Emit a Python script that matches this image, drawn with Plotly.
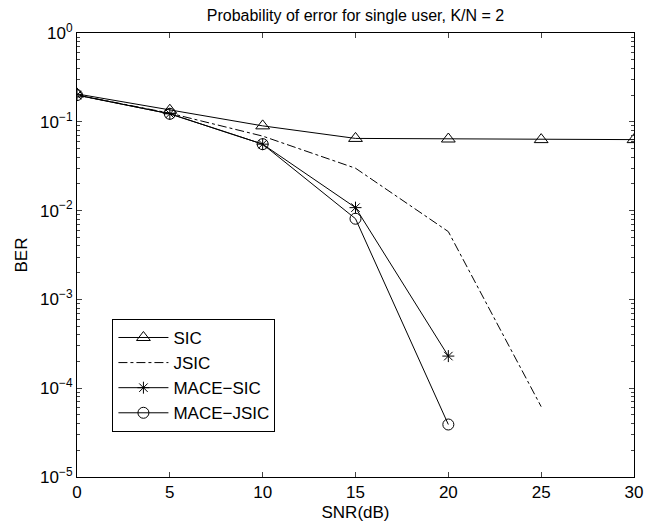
import plotly.graph_objects as go

snr = [0, 5, 10, 15, 20, 25, 30]
sic = [0.206, 0.135, 0.09, 0.065, 0.064, 0.063, 0.063]
snr_jsic = [0, 5, 10, 15, 20, 25]
jsic = [0.2, 0.125, 0.069, 0.03, 0.0058, 6.2e-5]
snr_mace = [0, 5, 10, 15, 20]
mace_sic = [0.2, 0.123, 0.056, 0.0108, 2.3e-4]
mace_jsic = [0.2, 0.123, 0.056, 0.0081, 3.9e-5]

ytick_vals = [1, 0.1, 0.01, 0.001, 1e-4, 1e-5]
ytick_text = ["10<sup>0</sup>", "10<sup>−1</sup>", "10<sup>−2</sup>", "10<sup>−3</sup>",
              "10<sup>−4</sup>", "10<sup>−5</sup>"]

fig = go.Figure()
fig.add_trace(go.Scatter(x=snr, y=sic, name="SIC", mode="lines+markers",
                         line=dict(color="black", width=1),
                         marker=dict(symbol="triangle-up-open", size=12, color="black", line=dict(width=1))))
fig.add_trace(go.Scatter(x=snr_jsic, y=jsic, name="JSIC", mode="lines",
                         line=dict(color="black", width=1, dash="dashdot")))
fig.add_trace(go.Scatter(x=snr_mace, y=mace_sic, name="MACE−SIC", mode="lines+markers",
                         line=dict(color="black", width=1),
                         marker=dict(symbol="asterisk-open", size=10, color="black", line=dict(width=1))))
fig.add_trace(go.Scatter(x=snr_mace, y=mace_jsic, name="MACE−JSIC", mode="lines+markers",
                         line=dict(color="black", width=1),
                         marker=dict(symbol="circle-open", size=11, color="black", line=dict(width=1))))

# page body has an 8px default margin: figure sized/offset to compensate
fig.update_layout(
    width=646, height=521,
    margin=dict(l=69, r=11, t=25, b=41),
    paper_bgcolor="white", plot_bgcolor="white",
    font=dict(family="Liberation Sans, Arial, Helvetica, sans-serif", size=17, color="black"),
    title=dict(text="Probability of error for single user, K/N = 2", x=0.5, xref="paper",
               xanchor="center", y=0.9856, yanchor="middle", font=dict(size=16)),
    legend=dict(x=0.0636, y=0.356, xanchor="left", yanchor="top",
                bordercolor="black", borderwidth=1, bgcolor="white",
                font=dict(size=17), tracegroupgap=0, itemwidth=50),
    xaxis=dict(range=[0, 30], tickvals=[0, 5, 10, 15, 20, 25, 30], ticks="inside", ticklen=5,
               showline=True, linecolor="black", linewidth=1, mirror="ticks", showgrid=False,
               zeroline=False, title=dict(text="SNR(dB)", standoff=4, font=dict(size=17))),
    yaxis=dict(type="log", range=[-5, 0], tickvals=ytick_vals, ticktext=ytick_text,
               ticks="inside", ticklen=5, showline=True, linecolor="black", linewidth=1,
               mirror="ticks", showgrid=False, zeroline=False,
               minor=dict(ticks="inside", ticklen=3, dtick="D1", showgrid=False),
               title=dict(text="BER", standoff=8, font=dict(size=17))),
)

fig.write_html("out.html")
